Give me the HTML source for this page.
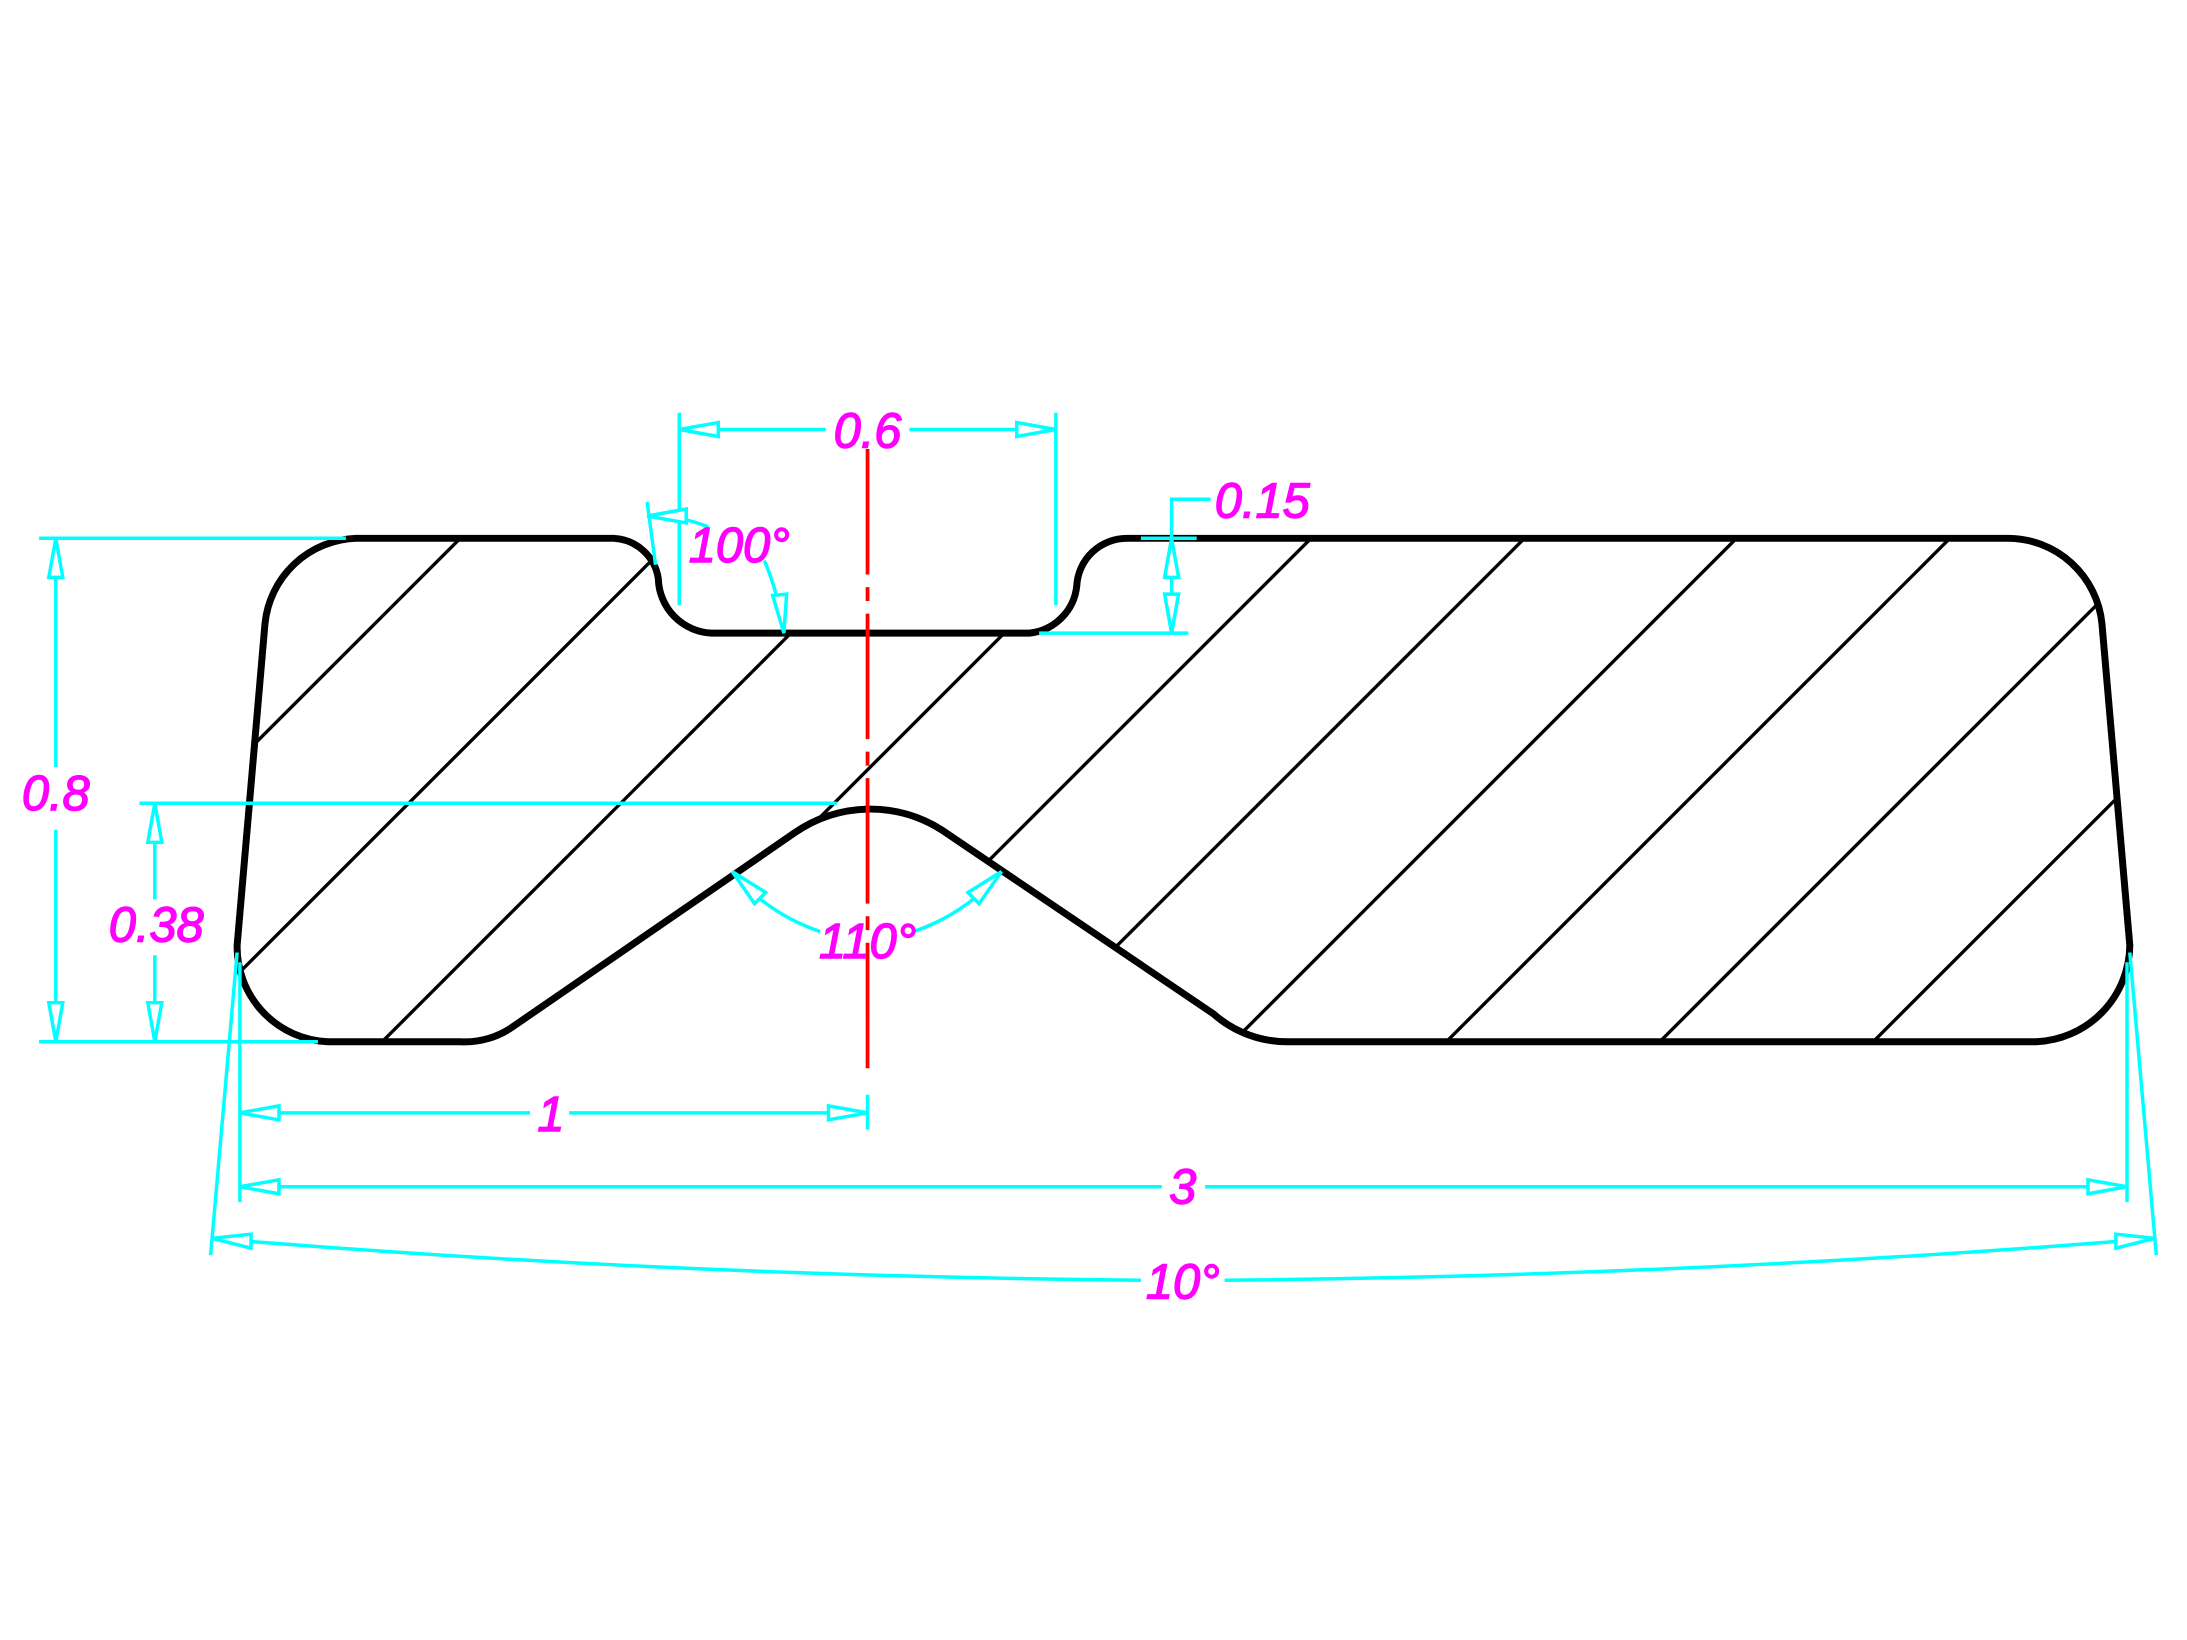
<!DOCTYPE html>
<html><head><meta charset="utf-8"><style>html,body{margin:0;padding:0;background:#fff}svg{display:block}</style></head>
<body>
<svg width="2187" height="1640" viewBox="0 0 1568 1176" preserveAspectRatio="none" xmlns="http://www.w3.org/2000/svg">
<defs>
<clipPath id="c"><path id="shape" d="M255,386 L440,386 A34,34 0 0 1 472,415 A40,40 0 0 0 510,454 L738,454 A38,38 0 0 0 772,420 A36,36 0 0 1 808,386 L1440,386 A68,68 0 0 1 1507,447 L1527,678 A70,70 0 0 1 1460,747 L925,747 A80,80 0 0 1 870,727 L675,595 A95,95 0 0 0 570,597 L368,736 A60,60 0 0 1 330,747 L235,747 A68,68 0 0 1 170,678 L190,447 A68,68 0 0 1 255,386 Z"/></clipPath>
</defs>
<g clip-path="url(#c)" stroke="#000" stroke-width="2.4">
<line x1="716" y1="0" x2="-454" y2="1170"/>
<line x1="869" y1="0" x2="-301" y2="1170"/>
<line x1="1021" y1="0" x2="-149" y2="1170"/>
<line x1="1174" y1="0" x2="4" y2="1170"/>
<line x1="1326" y1="0" x2="156" y2="1170"/>
<line x1="1479" y1="0" x2="309" y2="1170"/>
<line x1="1631" y1="0" x2="461" y2="1170"/>
<line x1="1784" y1="0" x2="614" y2="1170"/>
<line x1="1937" y1="0" x2="767" y2="1170"/>
<line x1="2090" y1="0" x2="920" y2="1170"/>
</g>
<use href="#shape" fill="none" stroke="#000" stroke-width="5"/>
<line x1="622" y1="322" x2="622" y2="775" stroke="#f00" stroke-width="2.7" stroke-dasharray="90 9 10 9"/>
<g stroke="#0ff" stroke-width="2.5" fill="none">
<line x1="487" y1="296" x2="487" y2="434"/><line x1="757" y1="296" x2="757" y2="434"/>
<line x1="487" y1="308" x2="592" y2="308"/><line x1="652" y1="308" x2="757" y2="308"/>
<line x1="745" y1="454" x2="852" y2="454"/><line x1="818" y1="386" x2="858" y2="386"/>
<polyline points="840,454 840,358 868,358"/>
<line x1="28" y1="386" x2="248" y2="386"/><line x1="28" y1="747" x2="228" y2="747"/>
<line x1="40" y1="386" x2="40" y2="550"/><line x1="40" y1="595" x2="40" y2="747"/>
<line x1="100" y1="576" x2="600" y2="576"/>
<line x1="111" y1="576" x2="111" y2="645"/><line x1="111" y1="685" x2="111" y2="747"/>
<line x1="172" y1="690" x2="172" y2="862"/><line x1="1525" y1="690" x2="1525" y2="862"/>
<line x1="622" y1="785" x2="622" y2="810"/>
<line x1="172" y1="798" x2="380" y2="798"/><line x1="408" y1="798" x2="622" y2="798"/>
<line x1="172" y1="851" x2="833" y2="851"/><line x1="864" y1="851" x2="1525" y2="851"/>
<line x1="170" y1="683" x2="151" y2="900"/><line x1="1527" y1="683" x2="1546" y2="900"/>
<path d="M152,888 Q480,915 818,918"/><path d="M878,918 Q1216,915 1545,888"/>
<line x1="464" y1="360" x2="470" y2="405"/>
<path d="M464,370 Q490,370 508,378"/>
<path d="M548,402 Q558,425 562,454"/>
<path d="M525,625 Q550,655 588,668"/><path d="M655,668 Q693,655 718,625"/>
</g>
<g stroke="#0ff" stroke-width="2.5" fill="#fff">
<polygon points="487,308 515,303 515,313"/><polygon points="757,308 729,303 729,313"/>
<polygon points="840,386 835,414 845,414"/><polygon points="840,454 835,426 845,426"/>
<polygon points="40,386 35,414 45,414"/><polygon points="40,747 35,719 45,719"/>
<polygon points="111,576 106,604 116,604"/><polygon points="111,747 106,719 116,719"/>
<polygon points="172,798 200,793 200,803"/><polygon points="622,798 594,793 594,803"/>
<polygon points="172,851 200,846 200,856"/><polygon points="1525,851 1497,846 1497,856"/>
<polygon points="152,888 180,885 180,895"/><polygon points="1545,888 1517,885 1517,895"/>
<polygon points="464,370 492,365 492,375"/>
<polygon points="562,454 554,427 564,426"/>
<polygon points="525,625 549,640 541,648"/><polygon points="718,625 702,648 694,640"/>
</g>
<g fill="#f0f" stroke="#f0f" stroke-width="1" font-family="Liberation Sans, sans-serif" font-style="italic" font-size="35" text-anchor="middle">
<text x="622" y="321">0.6</text>
<text x="905" y="371">0.15</text>
<text x="40" y="581">0.8</text>
<text x="112" y="675">0.38</text>
<text x="395" y="811">1</text>
<text x="848" y="863">3</text>
<text x="848" y="931">10°</text>
<text x="530" y="403">100°</text>
<text x="622" y="687">110°</text>
</g>
</svg>
</body></html>
